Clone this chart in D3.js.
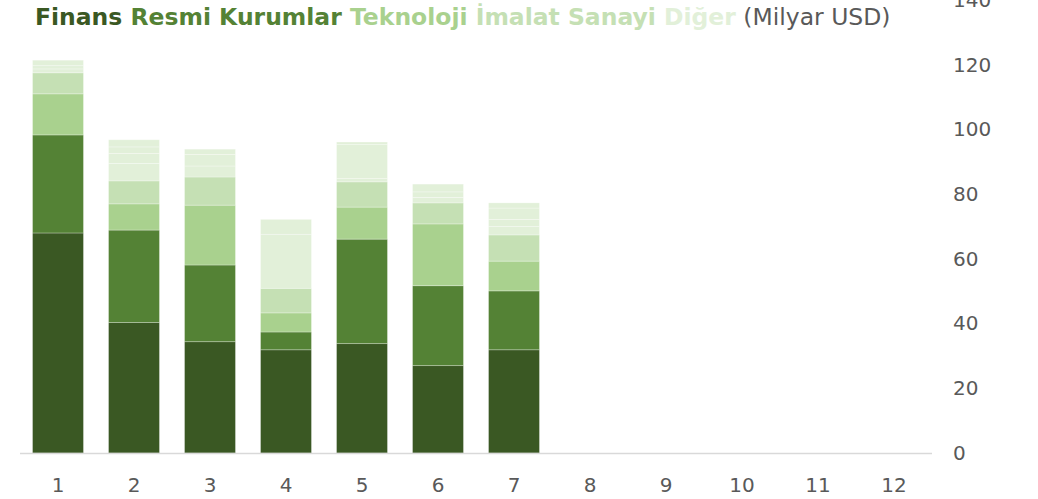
<!DOCTYPE html>
<html>
<head>
<meta charset="utf-8">
<script src="https://cdn.jsdelivr.net/npm/d3@7"></script>
<style>
  body { margin: 0; background: #fff; }
  svg { display: block; font-family: "DejaVu Sans", Verdana, sans-serif; }
</style>
</head>
<body>
<div id="chart"></div>
<script>
// Donnees (milliards USD)
const categories = ["1","2","3","4","5","6","7","8","9","10","11","12"];
const seriesNames = ["Finans", "Resmi Kurumlar", "Teknoloji", "İmalat Sanayi", "Diğer"];
const colors = ["#3a5823", "#548235", "#a9d18e", "#c5e0b4", "#e2f0d9"];

const finans    = [68.0, 40.3, 34.4, 31.9, 33.8, 27.0, 31.9];
const resmi     = [30.3, 28.6, 23.7,  5.5, 32.3, 24.7, 18.2];
const teknoloji = [12.7,  8.1, 18.5,  5.9,  9.9, 19.1,  9.2];
const imalat    = [ 6.5,  7.1,  8.7,  7.6,  7.8,  6.5,  8.1];
// "Diger" est compose de plusieurs petits postes de meme couleur
const diger = [
  [1.2, 1.0, 1.7],
  [5.4, 3.1, 2.0, 2.2],
  [3.4, 3.6, 1.6],
  [16.7, 4.6],
  [1.0, 10.5, 0.8],
  [1.7, 1.7, 2.4],
  [2.6, 2.2, 3.5, 1.6]
];
const yTicks = [0, 20, 40, 60, 80, 100, 120, 140];

const width = 1038, height = 499;
const svg = d3.select("#chart").append("svg")
  .attr("width", width).attr("height", height);

const x = d3.scaleBand().domain(categories).range([20, 932]).paddingInner(0.33).paddingOuter(0.165);
const y = d3.scaleLinear().domain([0, 140]).range([453, 0]);

// construit les segments empiles
const segments = [];
finans.forEach((v, i) => {
  let base = 0;
  const parts = [[finans[i], 0], [resmi[i], 1], [teknoloji[i], 2], [imalat[i], 3]];
  diger[i].forEach(d => parts.push([d, 4]));
  parts.forEach(([val, s]) => {
    segments.push({cat: categories[i], y0: base, y1: base + val, s: s});
    base += val;
  });
});

svg.append("g").selectAll("rect")
  .data(segments)
  .join("rect")
  .attr("x", d => x(d.cat))
  .attr("width", x.bandwidth())
  .attr("y", d => y(d.y1))
  .attr("height", d => y(d.y0) - y(d.y1))
  .attr("fill", d => colors[d.s])
  .attr("stroke", "rgba(255,255,255,0.35)")
  .attr("stroke-width", 0.8);

// ligne de base
svg.append("line")
  .attr("x1", 20).attr("x2", 932)
  .attr("y1", y(0) + 0.5).attr("y2", y(0) + 0.5)
  .attr("stroke", "#d9d9d9").attr("stroke-width", 1.5);

// axe Y a droite
const yAxis = svg.append("g").attr("transform", "translate(953,0)")
  .call(d3.axisRight(y).tickValues(yTicks).tickSize(0).tickPadding(0));
yAxis.select(".domain").remove();
yAxis.selectAll("text")
  .attr("font-size", 20).attr("fill", "#595959")
  .attr("font-family", "DejaVu Sans, Verdana, sans-serif");

// axe X
const xAxis = svg.append("g").attr("transform", "translate(0,474)")
  .call(d3.axisBottom(x).tickSize(0).tickPadding(0));
xAxis.select(".domain").remove();
xAxis.selectAll("text")
  .attr("font-size", 20).attr("fill", "#595959")
  .attr("dy", "0.9em")
  .attr("font-family", "DejaVu Sans, Verdana, sans-serif");

// legende en texte colore
const legend = svg.append("text").attr("x", 35).attr("y", 25).attr("font-size", 20);
seriesNames.forEach((n, i) => {
  legend.append("tspan").attr("font-weight", "bold").attr("fill", colors[i])
    .text((i > 0 ? " " : "") + n);
});
legend.append("tspan").attr("fill", "#595959").text(" (Milyar USD)");
// ajuste la taille pour couvrir la meme largeur que l'original (35 -> 891)
const len = legend.node().getComputedTextLength();
legend.attr("font-size", 20 * 856 / len);
</script>
</body>
</html>
